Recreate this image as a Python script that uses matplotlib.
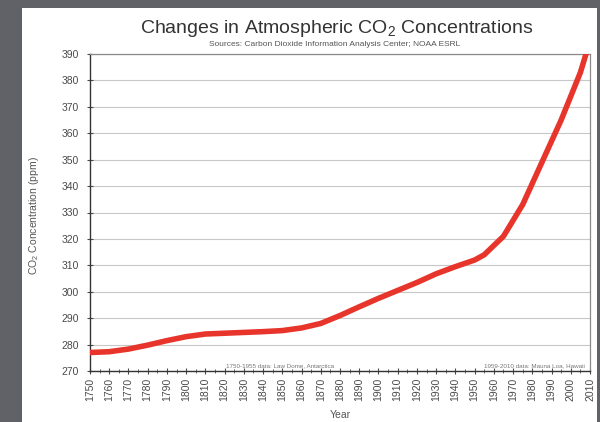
#!/usr/bin/env python3
"""Atmospheric CO2 concentration chart, 1750-2010."""
import matplotlib

matplotlib.use("Agg")
import matplotlib.pyplot as plt
from matplotlib.patches import Rectangle
from matplotlib.ticker import MultipleLocator

plt.rcParams["font.family"] = ["Liberation Sans", "DejaVu Sans"]
plt.rcParams["mathtext.fontset"] = "custom"
plt.rcParams["mathtext.rm"] = "Liberation Sans"

# data
years = [1750, 1760, 1770, 1780, 1790, 1800, 1810, 1820, 1830, 1840, 1850,
         1860, 1870, 1880, 1890, 1900, 1910, 1920, 1930, 1940, 1950, 1955,
         1960, 1965, 1970, 1975, 1980, 1985, 1990, 1995, 2000, 2005, 2010]
co2_ppm = [277.0, 277.3, 278.3, 279.8, 281.5, 283.0, 284.0, 284.3, 284.6,
           284.9, 285.3, 286.3, 288.0, 291.0, 294.3, 297.5, 300.5, 303.5,
           306.8, 309.5, 312.0, 314.0, 317.5, 321.0, 327.0, 333.0, 341.0,
           349.0, 357.0, 365.0, 374.0, 383.0, 395.0]
y_ticks = list(range(270, 400, 10))
x_label_years = list(range(1750, 2020, 10))

W, H = 600, 422
fig = plt.figure(figsize=(W / 100, H / 100), dpi=100, facecolor="#616267")
fig.patches.append(Rectangle((22 / W, 0), 575 / W, (H - 8) / H,
                             transform=fig.transFigure, facecolor="white",
                             edgecolor="none", zorder=-10))

ax = fig.add_axes([90 / W, 1 - 371 / H, 500 / W, (371 - 54) / H])
ax.plot(years, co2_ppm, color="#e8352b", lw=4.0, solid_capstyle="round",
        zorder=3)
ax.set_xlim(1750, 2010)
ax.set_ylim(270, 390)
ax.set_yticks(y_ticks)
ax.set_xticks(x_label_years)
ax.xaxis.set_minor_locator(MultipleLocator(5))
ax.set_xticklabels([str(y) for y in x_label_years], rotation=90)
ax.tick_params(axis="both", labelsize=7.5, colors="#4a4a4a",
               direction="inout", length=4, width=0.8)
ax.tick_params(axis="y", pad=6)
ax.tick_params(axis="x", pad=3)
ax.tick_params(axis="x", which="minor", direction="inout", length=3,
               width=0.6, colors="#4a4a4a")
ax.grid(axis="y", color="#c8c8c8", lw=0.8)
ax.set_axisbelow(True)
for side in ("left", "bottom"):
    ax.spines[side].set_color("#333333")
    ax.spines[side].set_linewidth(1.0)
for side in ("top", "right"):
    ax.spines[side].set_color("#8a8a8a")
    ax.spines[side].set_linewidth(0.9)

ax.set_ylabel("CO$_2$ Concentration (ppm)", fontsize=7.5, color="#555555")
ax.yaxis.set_label_coords((41 - 90) / 500, 0.49)
ax.set_xlabel("Year", fontsize=7.5, color="#555555")
ax.xaxis.set_label_coords(0.5, (371 - 410) / 317)

ax.text(0.38, 0.01, "1750-1955 data: Law Dome, Antarctica",
        transform=ax.transAxes, fontsize=4.5, color="#777777", ha="center",
        va="bottom")
ax.text(0.99, 0.01, "1959-2010 data: Mauna Loa, Hawaii",
        transform=ax.transAxes, fontsize=4.5, color="#777777", ha="right",
        va="bottom")

fig.text(337 / W, 1 - 33 / H, "Changes in Atmospheric CO$_2$ Concentrations",
         fontsize=14, color="#333333", ha="center", va="baseline")
fig.text(335 / W, 1 - 46.5 / H,
         "Sources: Carbon Dioxide Information Analysis Center; NOAA ESRL",
         fontsize=6, color="#555555", ha="center", va="baseline")

fig.savefig("out.png", dpi=100, facecolor=fig.get_facecolor())
